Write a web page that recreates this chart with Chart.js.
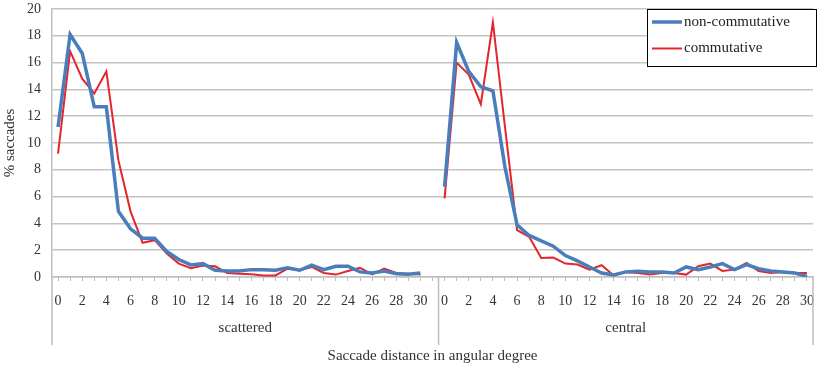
<!DOCTYPE html>
<html>
<head>
<meta charset="utf-8">
<script src="https://cdn.jsdelivr.net/npm/chart.js@4.4.1/dist/chart.umd.min.js"></script>
<style>
  html, body { margin: 0; padding: 0; background: #fff; }
</style>
</head>
<body>
<canvas id="saccadeChart" width="823" height="380"></canvas>
<script>
// saccade distance (deg) for each group
const degrees = [0,1,2,3,4,5,6,7,8,9,10,11,12,13,14,15,16,17,18,19,20,21,22,23,24,25,26,27,28,29,30];
const groups = ['scattered', 'central'];
const yTicks = [0,2,4,6,8,10,12,14,16,18,20];

const scatteredNonComm = [11.2,18.1,16.7,12.7,12.7,4.9,3.6,2.9,2.9,1.9,1.3,0.9,1.0,0.5,0.45,0.45,0.55,0.55,0.5,0.68,0.5,0.88,0.55,0.8,0.8,0.38,0.3,0.45,0.25,0.2,0.3];
const scatteredComm    = [9.2,16.85,14.8,13.7,15.35,8.7,4.9,2.55,2.75,1.75,1.0,0.65,0.85,0.8,0.3,0.25,0.2,0.12,0.12,0.62,0.5,0.75,0.3,0.18,0.45,0.68,0.2,0.62,0.3,0.25,0.18];
const centralNonComm   = [6.75,17.5,15.35,14.2,13.9,8.2,3.9,3.1,2.7,2.3,1.6,1.2,0.75,0.3,0.15,0.38,0.42,0.38,0.38,0.3,0.75,0.55,0.75,1.0,0.55,0.93,0.62,0.45,0.38,0.3,0.05];
const centralComm      = [5.87,16.0,15.1,12.9,19.0,11.2,3.5,3.0,1.42,1.45,1.0,0.93,0.55,0.88,0.12,0.38,0.3,0.18,0.3,0.3,0.18,0.8,1.0,0.45,0.55,1.05,0.45,0.3,0.38,0.3,0.3];

const BLUE = '#4A7EBB';
const RED = '#E3262B';
const FONT = '"Liberation Serif", "Times New Roman", serif';

// one empty slot after the scattered group breaks the lines
const labels = [...degrees, '', ...degrees];
const nonComm = [...scatteredNonComm, null, ...centralNonComm];
const comm = [...scatteredComm, null, ...centralComm];
const groupStart = degrees.length + 1;

const extras = {
  id: 'extras',
  afterDraw(chart) {
    const ctx = chart.ctx;
    const xs = chart.scales.x;
    const area = chart.chartArea;
    const mid = (xs.getPixelForValue(groupStart - 1) + xs.getPixelForValue(groupStart)) / 2;

    // group separators
    ctx.save();
    ctx.strokeStyle = '#bdbdbd';
    ctx.lineWidth = 1.5;
    [area.left, mid, area.right].forEach(x => {
      ctx.beginPath();
      ctx.moveTo(x, area.bottom);
      ctx.lineTo(x, 345);
      ctx.stroke();
    });

    ctx.fillStyle = '#333';
    ctx.font = '15px ' + FONT;
    ctx.textAlign = 'center';
    ctx.textBaseline = 'middle';
    ctx.fillText(groups[0], (area.left + mid) / 2, 328);
    ctx.fillText(groups[1], (mid + area.right) / 2, 328);

    // axis titles
    ctx.fillText('Saccade distance in angular degree', (area.left + area.right) / 2, 356);
    ctx.translate(10, (area.top + area.bottom) / 2);
    ctx.rotate(-Math.PI / 2);
    ctx.fillText('% saccades', 0, 0);
    ctx.restore();

    // legend box
    ctx.save();
    ctx.fillStyle = '#fff';
    ctx.fillRect(647, 9, 169, 57);
    ctx.strokeStyle = '#000';
    ctx.lineWidth = 1;
    ctx.strokeRect(647.5, 9.5, 169, 57);
    const items = [['non-commutative', BLUE, 3.5, 22], ['commutative', RED, 2, 48.5]];
    ctx.font = '15px ' + FONT;
    ctx.textBaseline = 'middle';
    items.forEach(([text, color, w, y]) => {
      ctx.strokeStyle = color;
      ctx.lineWidth = w;
      ctx.beginPath();
      ctx.moveTo(652, y);
      ctx.lineTo(682, y);
      ctx.stroke();
      ctx.fillStyle = '#222';
      ctx.fillText(text, 684, y);
    });
    ctx.restore();
  }
};

const ctx = document.getElementById('saccadeChart').getContext('2d');
const myChart = new Chart(ctx, {
  type: 'line',
  data: {
    labels: labels,
    datasets: [{
      label: 'non-commutative',
      data: nonComm,
      borderColor: BLUE,
      borderWidth: 3.5,
      pointRadius: 0,
      tension: 0,
      spanGaps: false
    }, {
      label: 'commutative',
      data: comm,
      borderColor: RED,
      borderWidth: 2,
      pointRadius: 0,
      tension: 0,
      spanGaps: false
    }]
  },
  options: {
    responsive: false,
    animation: false,
    layout: { padding: { top: 9, right: 10, left: 0, bottom: 0 } },
    plugins: { legend: { display: false }, tooltip: { enabled: false } },
    scales: {
      x: {
        offset: true,
        afterFit: s => { s.height = 103; s.paddingLeft = 0; s.paddingRight = 0; },
        grid: { drawOnChartArea: false, color: '#bdbdbd', tickLength: 4 },
        border: { color: '#bdbdbd', width: 1.5 },
        ticks: {
          autoSkip: false,
          maxRotation: 0,
          padding: 12,
          color: '#333',
          font: { family: FONT, size: 14 },
          callback: function (value) {
            const lab = this.getLabelForValue(value);
            return (lab !== '' && lab % 2 === 0) ? String(lab) : '';
          }
        }
      },
      y: {
        min: 0,
        max: 20,
        afterFit: s => { s.width = 52; s.paddingTop = 0; s.paddingBottom = 0; },
        afterBuildTicks: s => { s.ticks = yTicks.map(v => ({ value: v })); },
        grid: { color: '#c4c4c4', lineWidth: 1.5, drawTicks: false },
        border: { color: '#bdbdbd', width: 1.5 },
        ticks: {
          padding: 11,
          color: '#333',
          font: { family: FONT, size: 14 }
        }
      }
    }
  },
  plugins: [extras]
});
</script>
</body>
</html>
